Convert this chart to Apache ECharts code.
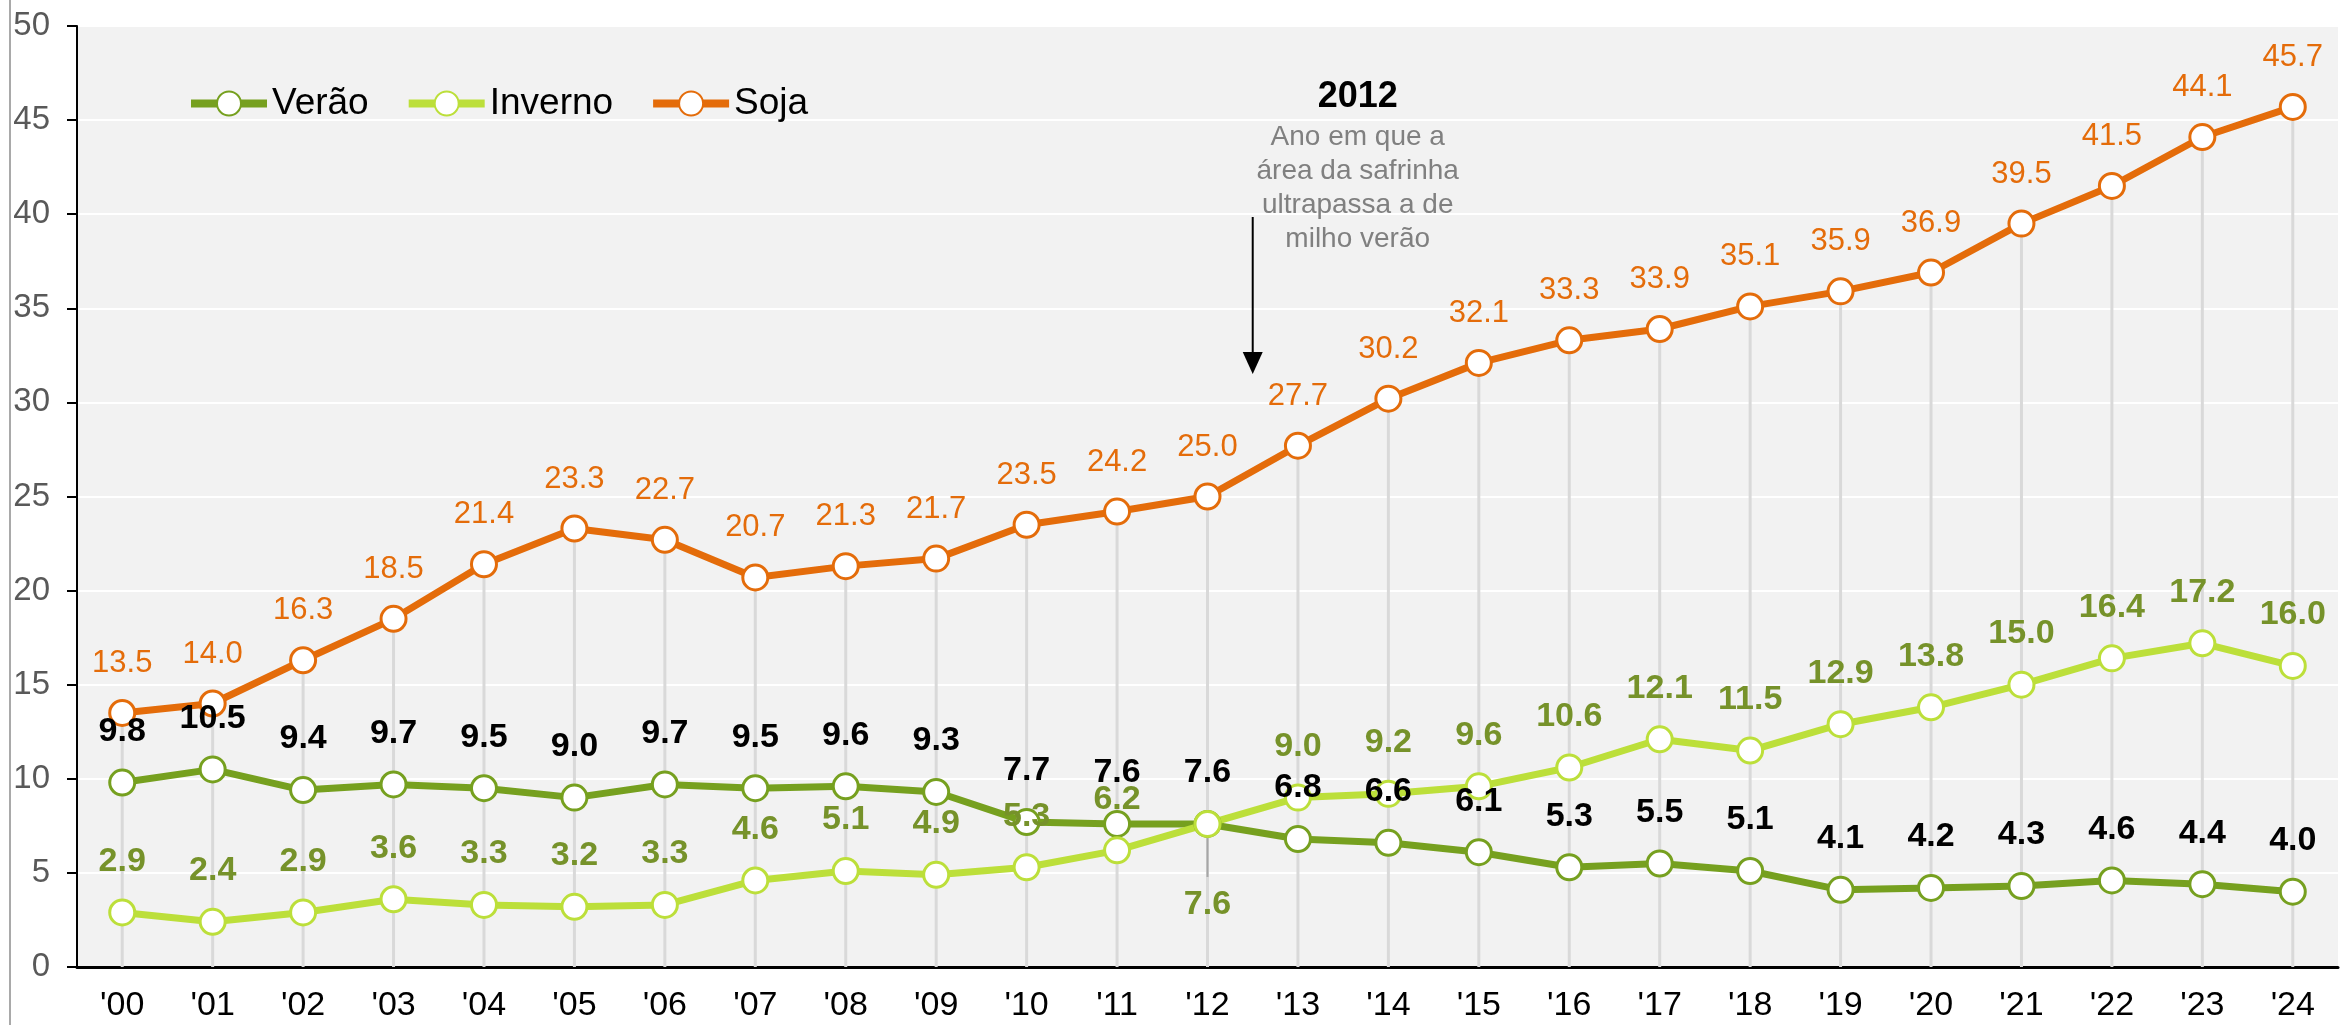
<!DOCTYPE html>
<html>
<head>
<meta charset="utf-8">
<script src="https://cdn.jsdelivr.net/npm/echarts@6.0.0/dist/echarts.min.js"></script>
<style>
  html, body { margin: 0; padding: 0; background: #fff; }
  #main { width: 2343px; height: 1025px; }
</style>
</head>
<body>
<div id="main"></div>
<script>
// data
const years = ["'00","'01","'02","'03","'04","'05","'06","'07","'08","'09","'10","'11","'12",
  "'13","'14","'15","'16","'17","'18","'19","'20","'21","'22","'23","'24"];
const verao = [9.8,10.5,9.4,9.7,9.5,9.0,9.7,9.5,9.6,9.3,7.7,7.6,7.6,6.8,6.6,6.1,5.3,5.5,5.1,4.1,4.2,4.3,4.6,4.4,4.0];
const inverno = [2.9,2.4,2.9,3.6,3.3,3.2,3.3,4.6,5.1,4.9,5.3,6.2,7.6,9.0,9.2,9.6,10.6,12.1,11.5,12.9,13.8,15.0,16.4,17.2,16.0];
const soja = [13.5,14.0,16.3,18.5,21.4,23.3,22.7,20.7,21.3,21.7,23.5,24.2,25.0,27.7,30.2,32.1,33.3,33.9,35.1,35.9,36.9,39.5,41.5,44.1,45.7];
const noteYear = '2012';
const noteLines = ['Ano em que a', 'área da safrinha', 'ultrapassa a de', 'milho verão'];
const crossIndex = 12; // inverno label moved below here

const sans = "'Liberation Sans', Arial, sans-serif";

const chart = echarts.init(document.getElementById('main'));

function lineSeries(name, data, color, lbl) {
  return {
    name: name,
    type: 'line',
    data: data,
    symbol: 'circle',
    symbolSize: 25,
    lineStyle: { color: color, width: 7 },
    itemStyle: { color: '#fff', borderColor: color, borderWidth: 3 },
    label: Object.assign({ show: true, position: 'top', distance: 20,
      formatter: p => Number(p.value).toFixed(1) }, lbl),
    emphasis: { disabled: true },
    animation: false
  };
}

const option = {
  backgroundColor: '#fff',
  animation: false,
  grid: {
    left: 77, right: 5, top: 26, bottom: 58,
    show: true, backgroundColor: '#f2f2f2', borderWidth: 0
  },
  legend: {
    data: ['Verão', 'Inverno', 'Soja'],
    left: 182, top: 80,
    itemWidth: 76, itemHeight: 30, itemGap: 36,
    lineStyle: { width: 8 },
    textStyle: { fontFamily: sans, fontSize: 37, color: '#000' }
  },
  xAxis: {
    type: 'category',
    data: years,
    axisLine: { lineStyle: { color: '#000', width: 3 } },
    axisTick: { show: false },
    axisLabel: { fontFamily: sans, fontSize: 34, color: '#000', margin: 22 },
    splitLine: { show: false }
  },
  yAxis: {
    type: 'value',
    min: 0, max: 50, interval: 5,
    axisLine: { show: true, lineStyle: { color: '#000', width: 2 } },
    axisTick: { show: true, length: 10, lineStyle: { color: '#000', width: 2 } },
    axisLabel: { fontFamily: sans, fontSize: 33, color: '#595959', margin: 27 },
    splitLine: { lineStyle: { color: '#fff', width: 2 } }
  },
  series: [
    {
      name: 'drop',
      type: 'bar',
      data: soja,
      barWidth: 3,
      itemStyle: { color: '#d9d9d9' },
      silent: true,
      z: 1,
      animation: false
    },
    lineSeries('Verão', verao, '#76a01f',
      { fontFamily: sans, fontWeight: 'bold', fontSize: 34, color: '#000' }),
    lineSeries('Inverno', inverno.map((v, i) => i === crossIndex
        ? { value: v, label: { position: 'bottom', distance: 50 } } : v),
      '#bcdf3a',
      { fontFamily: sans, fontWeight: 'bold', fontSize: 34, color: '#76922a' }),
    lineSeries('Soja', soja, '#e46c0a',
      { fontFamily: sans, fontSize: 31, color: '#e46c0a' })
  ]
};
chart.setOption(option);

// annotations placed with the chart's own scales
const a = chart.convertToPixel({ gridIndex: 0 }, [crossIndex, 0]);
const b = chart.convertToPixel({ gridIndex: 0 }, [crossIndex + 1, 0]);
const arrowX = (a[0] + b[0]) / 2;
const textX = arrowX + 105;
const lead0 = chart.convertToPixel({ gridIndex: 0 }, [crossIndex, inverno[crossIndex]]);

const graphics = [
  { type: 'line', shape: { x1: 10, y1: 0, x2: 10, y2: 1025 },
    style: { stroke: '#8c8c8c', lineWidth: 1.5 }, silent: true },
  { type: 'text', x: textX, y: 97,
    style: { text: noteYear, fontFamily: sans, fontWeight: 'bold', fontSize: 36,
      fill: '#000', align: 'center', verticalAlign: 'middle' }, z: 10 },
  { type: 'line', shape: { x1: arrowX, y1: 217, x2: arrowX, y2: 355 },
    style: { stroke: '#000', lineWidth: 2 }, z: 10 },
  { type: 'polygon', shape: { points: [[arrowX - 10, 352], [arrowX + 10, 352], [arrowX, 374]] },
    style: { fill: '#000' }, z: 10 },
  { type: 'line', shape: { x1: lead0[0], y1: lead0[1], x2: lead0[0], y2: lead0[1] + 53 },
    style: { stroke: '#a6a6a6', lineWidth: 2 }, z: 2 }
];
noteLines.forEach((t, i) => {
  graphics.push({ type: 'text', x: textX, y: 137 + i * 34,
    style: { text: t, fontFamily: sans, fontSize: 28, fill: '#808080',
      align: 'center', verticalAlign: 'middle' }, z: 10 });
});
chart.setOption({ graphic: graphics });
</script>
</body>
</html>
